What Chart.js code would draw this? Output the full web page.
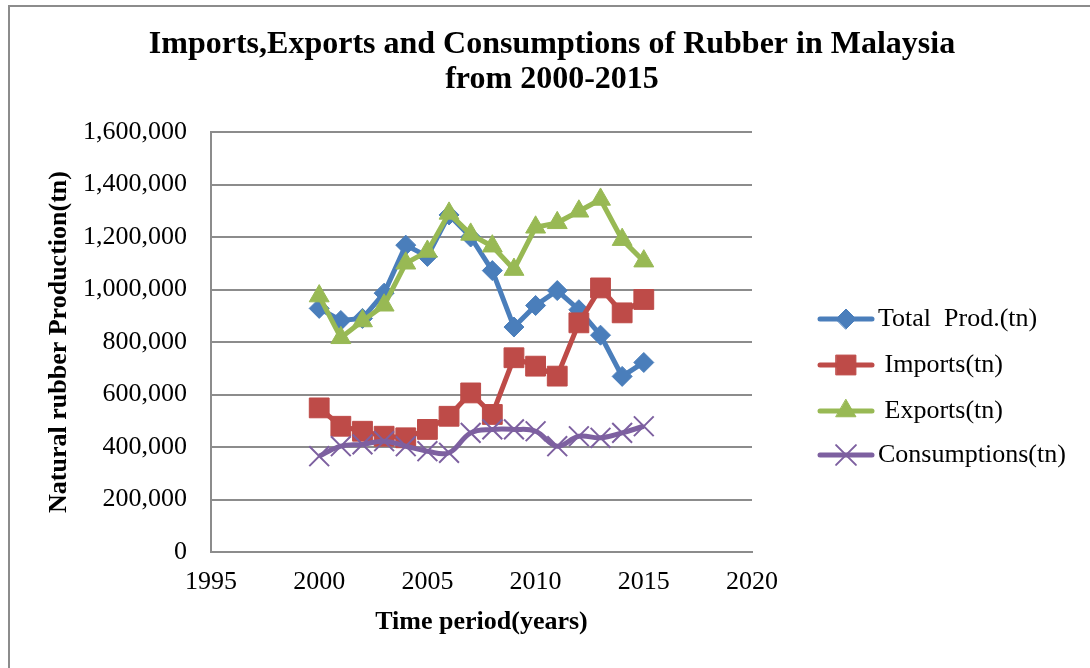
<!DOCTYPE html>
<html>
<head>
<meta charset="utf-8">
<script src="https://cdn.jsdelivr.net/npm/chart.js@4"></script>
<style>
  html, body { margin: 0; padding: 0; background: #fff; }
  #wrap { position: relative; width: 1090px; height: 668px; overflow: hidden; }
  #frame { position: absolute; left: 8px; top: 5px; width: 1200px; height: 800px;
           border-left: 2px solid #8c8c8c; border-top: 2px solid #8c8c8c; }
  canvas { position: absolute; left: 0; top: 0; }
</style>
</head>
<body>
<div id="wrap">
  <div id="frame"></div>
  <canvas id="myChart" width="1090" height="668"></canvas>
</div>
<script>
// 데이터
const years = [2000, 2001, 2002, 2003, 2004, 2005, 2006, 2007, 2008, 2009, 2010, 2011, 2012, 2013, 2014, 2015];

const totalProd = [928000, 882000, 890000, 986000, 1169000, 1126000, 1284000, 1200000, 1072000, 857000, 939000, 996000, 923000, 826000, 669000, 722000];
const imports = [549000, 479000, 460000, 441000, 435000, 467000, 517000, 606000, 524000, 740000, 708000, 670000, 873000, 1006000, 911000, 962000];
const exportsTn = [975000, 816000, 880000, 940000, 1100000, 1145000, 1290000, 1210000, 1165000, 1076000, 1237000, 1254000, 1298000, 1343000, 1190000, 1108000];
const consumptions = [365000, 403000, 410000, 422000, 403000, 384000, 378000, 454000, 467000, 467000, 460000, 403000, 441000, 435000, 454000, 479000];

const seriesNames = ["Total  Prod.(tn)", " Imports(tn)", " Exports(tn)", "Consumptions(tn)"];
const xTicks = [1995, 2000, 2005, 2010, 2015, 2020];
const titleLines = ["Imports,Exports and Consumptions of Rubber in Malaysia", "from 2000-2015"];

const toPoints = (arr) => arr.map((v, i) => ({ x: years[i], y: v }));

const serif = "'Liberation Serif', 'Times New Roman', serif";
const gridGray = "#8c8c8c";

const styles = [
  { color: "#4a7ebb", point: "rectRot", radius: 10, order: 4, tension: 0 },
  { color: "#be4b48", point: "rect", radius: 14, order: 3, tension: 0 },
  { color: "#98b954", point: "triangle", radius: 11.5, order: 2, tension: 0 },
  { color: "#7d60a0", point: "crossRot", radius: 14, order: 1, tension: 0.4 }
];
const allData = [totalProd, imports, exportsTn, consumptions];

const datasets = allData.map((arr, i) => ({
  label: seriesNames[i],
  data: toPoints(arr),
  borderColor: styles[i].color,
  backgroundColor: styles[i].color,
  borderWidth: 5,
  pointStyle: styles[i].point,
  pointRadius: styles[i].radius,
  pointHoverRadius: styles[i].radius,
  pointBackgroundColor: styles[i].color,
  pointBorderColor: styles[i].color,
  pointBorderWidth: styles[i].point === "crossRot" ? 2 : 1,
  tension: styles[i].tension,
  order: styles[i].order
}));

// 제목 + 범례 그리기
const extras = {
  id: "extras",
  afterDraw(chart) {
    const ctx = chart.ctx;
    ctx.save();
    ctx.fillStyle = "#000";
    ctx.textAlign = "center";
    ctx.textBaseline = "middle";
    ctx.font = "bold 32px " + serif;
    ctx.fillText(titleLines[0], 552, 45);
    ctx.fillText(titleLines[1], 552, 80);

    const rows = [319, 365, 411, 455];
    for (let i = 0; i < 4; i++) {
      const y = rows[i];
      const c = styles[i].color;
      ctx.strokeStyle = c;
      ctx.lineWidth = 5;
      ctx.lineCap = "round";
      ctx.beginPath();
      ctx.moveTo(820, y);
      ctx.lineTo(872, y);
      ctx.stroke();
      ctx.fillStyle = c;
      ctx.strokeStyle = c;
      ctx.lineWidth = styles[i].point === "crossRot" ? 2 : 1;
      if (Chart.helpers && Chart.helpers.drawPoint) {
        Chart.helpers.drawPoint(ctx, { pointStyle: styles[i].point, radius: styles[i].radius, rotation: 0, borderWidth: ctx.lineWidth }, 846, y);
      }
      ctx.fillStyle = "#000";
      ctx.textAlign = "left";
      ctx.font = "26px " + serif;
      ctx.fillText(seriesNames[i], 878, y);
    }
    ctx.restore();
  }
};

const ctx = document.getElementById("myChart");

new Chart(ctx, {
  type: "line",
  data: { datasets: datasets },
  plugins: [extras],
  options: {
    responsive: false,
    animation: false,
    events: [],
    layout: { padding: { left: 0, right: 338, top: 132, bottom: 0 } },
    plugins: {
      legend: { display: false },
      title: { display: false },
      tooltip: { enabled: false }
    },
    scales: {
      x: {
        type: "linear",
        min: 1995,
        max: 2020,
        afterBuildTicks: (scale) => { scale.ticks = xTicks.map(v => ({ value: v })); },
        afterFit: (scale) => { scale.height = 668 - 552; },
        ticks: {
          callback: (v) => String(v),
          color: "#000",
          font: { family: serif, size: 26 },
          padding: 15,
          maxRotation: 0
        },
        grid: { display: false, drawTicks: false },
        border: { display: true, color: gridGray, width: 2 },
        title: {
          display: true,
          text: "Time period(years)",
          color: "#000",
          font: { family: serif, size: 26, weight: "bold" },
          padding: { top: 0, bottom: 30 }
        }
      },
      y: {
        min: 0,
        max: 1600000,
        ticks: {
          stepSize: 200000,
          callback: (v) => v.toLocaleString("en-US"),
          color: "#000",
          font: { family: serif, size: 26 },
          padding: 24
        },
        afterFit: (scale) => { scale.width = 211; },
        grid: { color: gridGray, lineWidth: 2, drawTicks: false },
        border: { display: true, color: gridGray, width: 2 },
        title: {
          display: true,
          text: "Natural rubber Production(tn)",
          color: "#000",
          font: { family: serif, size: 26, weight: "bold" },
          padding: { top: 44, bottom: 0 }
        }
      }
    }
  }
});
</script>
</body>
</html>
